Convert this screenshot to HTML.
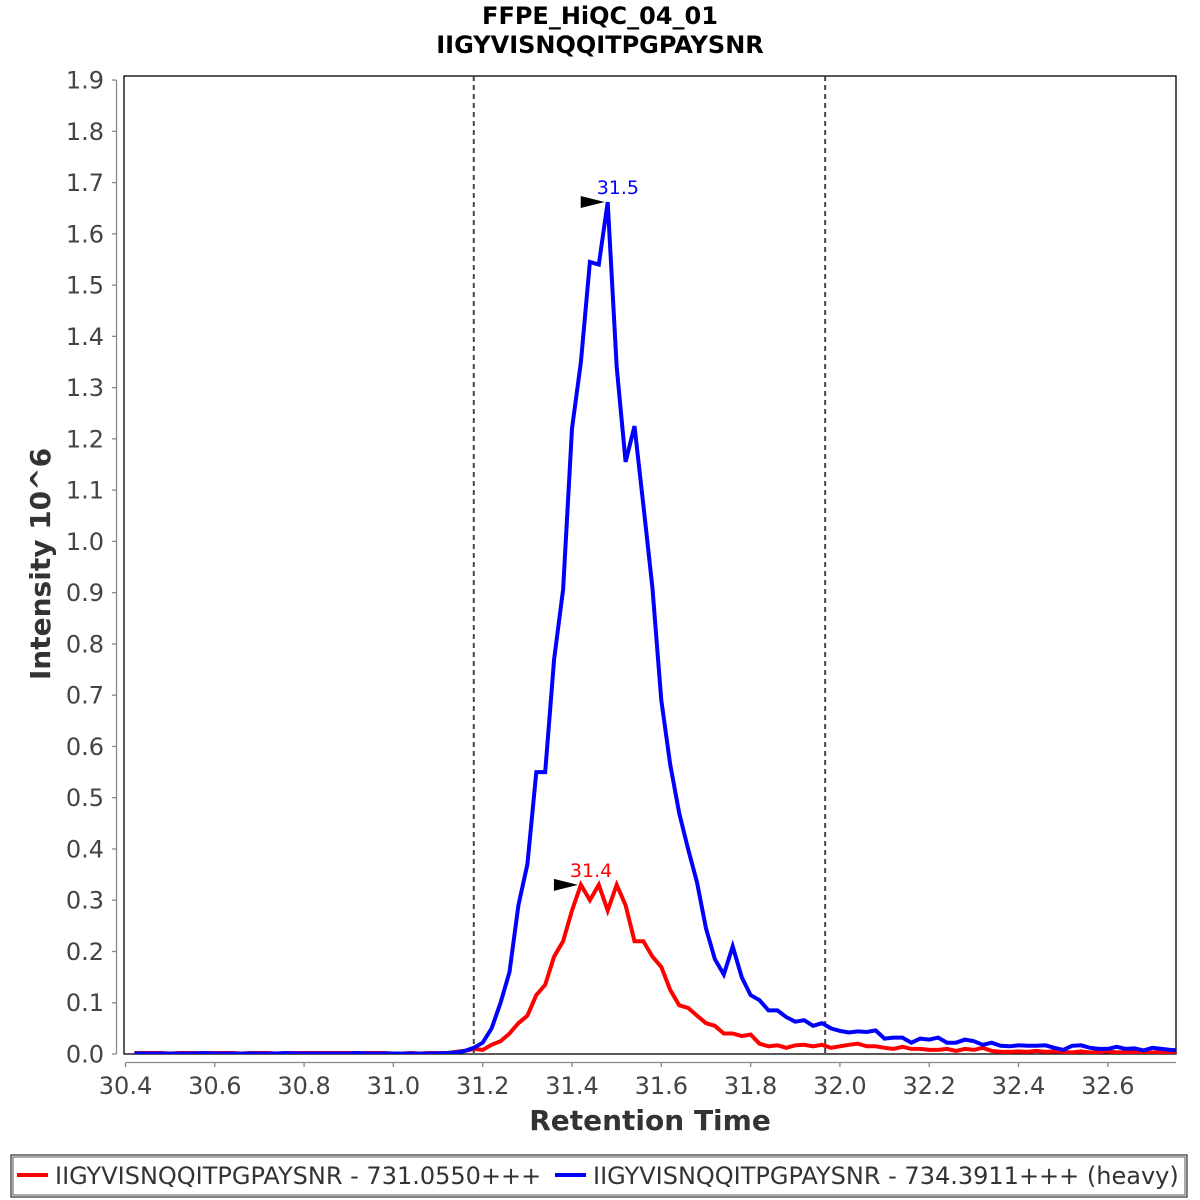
<!DOCTYPE html>
<html><head><meta charset="utf-8"><style>
html,body{margin:0;padding:0;background:#fff;}
svg{display:block;font-family:"DejaVu Sans","Liberation Sans",sans-serif;}
</style></head><body>
<svg id="chart" width="1200" height="1200" viewBox="0 0 1200 1200">
<rect x="0" y="0" width="1200" height="1200" fill="#fff"/>
<text x="600" y="24" text-anchor="middle" font-size="24" font-weight="bold" fill="#000">FFPE_HiQC_04_01</text>
<text x="600" y="53" text-anchor="middle" font-size="24" font-weight="bold" fill="#000">IIGYVISNQQITPGPAYSNR</text>
<rect x="124" y="76" width="1052" height="978" fill="#fff" stroke="#000" stroke-width="1.3"/>
<g id="yaxis"></g>
<g id="xaxis"></g>
<text transform="translate(50,564) rotate(-90)" text-anchor="middle" font-size="28" font-weight="bold" fill="#333">Intensity 10^6</text>
<text x="650" y="1130" text-anchor="middle" font-size="28" font-weight="bold" fill="#333">Retention Time</text>
<defs><clipPath id="clip"><rect x="124" y="76" width="1052" height="978"/></clipPath></defs>
<g id="marks" clip-path="url(#clip)"></g>
<g id="annot"></g>
<rect x="11" y="1155" width="1176" height="42" fill="none" stroke="#000" stroke-width="1"/>
<rect x="13" y="1157" width="1172" height="38" fill="none" stroke="#555" stroke-width="1"/>
<line x1="17" y1="1175" x2="48" y2="1175" stroke="#f00" stroke-width="4"/>
<text x="55" y="1184" font-size="24" fill="#333">IIGYVISNQQITPGPAYSNR - 731.0550+++</text>
<line x1="555" y1="1175" x2="586" y2="1175" stroke="#00f" stroke-width="4"/>
<text x="593" y="1184" font-size="24" fill="#333">IIGYVISNQQITPGPAYSNR - 734.3911+++ (heavy)</text>
</svg>
<script>
const times = [30.42,30.44,30.46,30.48,30.50,30.52,30.54,30.56,30.58,30.60,30.62,30.64,30.66,30.68,30.70,30.72,30.74,30.76,30.78,30.80,30.82,30.84,30.86,30.88,30.90,30.92,30.94,30.96,30.98,31.00,31.02,31.04,31.06,31.08,31.10,31.12,31.14,31.16,31.18,31.20,31.22,31.24,31.26,31.28,31.30,31.32,31.34,31.36,31.38,31.40,31.42,31.44,31.46,31.48,31.50,31.52,31.54,31.56,31.58,31.60,31.62,31.64,31.66,31.68,31.70,31.72,31.74,31.76,31.78,31.80,31.82,31.84,31.86,31.88,31.90,31.92,31.94,31.96,31.98,32.00,32.02,32.04,32.06,32.08,32.10,32.12,32.14,32.16,32.18,32.20,32.22,32.24,32.26,32.28,32.30,32.32,32.34,32.36,32.38,32.40,32.42,32.44,32.46,32.48,32.50,32.52,32.54,32.56,32.58,32.60,32.62,32.64,32.66,32.68,32.70,32.72,32.74,32.76,32.78];
const heavy = [0.001,0.001,0.001,0.001,0.001,0.001,0.001,0.001,0.002,0.001,0.001,0.001,0.001,0.001,0.001,0.001,0.001,0.002,0.001,0.001,0.001,0.001,0.001,0.001,0.001,0.002,0.001,0.001,0.001,0.001,0.001,0.001,0.001,0.001,0.001,0.002,
0.003,0.006,0.012,0.022,0.05,0.10,0.16,0.29,0.37,0.55,0.55,
0.77,0.906,1.22,1.35,1.545,1.54,1.662,1.34,1.155,1.225,1.07,0.91,0.69,0.565,0.47,0.40,0.335,0.245,0.185,0.155,0.21,0.15,0.115,0.105,0.085,0.085,0.072,0.063,0.066,0.055,0.06,0.05,0.045,0.042,0.044,0.043,0.046,0.03,0.032,0.032,0.022,0.03,0.028,0.032,0.022,0.022,0.028,0.025,0.018,0.022,0.016,0.015,0.017,0.016,0.016,0.017,0.012,0.008,0.016,0.017,0.012,0.01,0.01,0.014,0.01,0.011,0.007,0.012,0.01,0.008,0.007];
const light = [0.002,0.002,0.002,0.002,0.001,0.002,0.002,0.002,0.002,0.002,0.002,0.002,0.001,0.002,0.002,0.002,0.001,0.002,0.002,0.002,0.002,0.002,0.002,0.002,0.002,0.002,0.002,0.002,0.002,0.001,0.001,0.002,0.001,0.002,0.002,0.002,
0.004,0.006,0.01,0.008,0.018,0.025,0.04,0.06,0.075,0.115,0.135,0.19,0.22,0.28,0.33,
0.30,0.33,0.28,0.33,0.29,0.22,0.22,0.19,0.17,0.125,0.095,0.09,0.075,0.06,0.055,0.04,0.04,0.035,0.038,0.02,0.015,0.017,0.012,0.017,0.018,0.015,0.018,0.012,0.015,0.018,0.02,0.015,0.015,0.012,0.01,0.014,0.01,0.01,0.008,0.008,0.01,0.006,0.01,0.008,0.012,0.006,0.004,0.004,0.005,0.004,0.006,0.004,0.005,0.004,0.003,0.005,0.003,0.004,0.005,0.003,0.004,0.003,0.004,0.003,0.004,0.003,0.002];
const xTicks = [30.4,30.6,30.8,31.0,31.2,31.4,31.6,31.8,32.0,32.2,32.4,32.6];
const yTicks = [0.0,0.1,0.2,0.3,0.4,0.5,0.6,0.7,0.8,0.9,1.0,1.1,1.2,1.3,1.4,1.5,1.6,1.7,1.8,1.9];
const boundaries = [31.18,31.967];
const peakTimes = [31.5,31.4];

const NS='http://www.w3.org/2000/svg';
const X = t => 125.5 + (t-30.4)*446.5;
const Y = v => 1054 - v*512.6;
function mk(tag, attrs, parent){const e=document.createElementNS(NS,tag);for(const k in attrs)e.setAttribute(k,attrs[k]);parent.appendChild(e);return e;}
const ya=document.getElementById('yaxis'), xa=document.getElementById('xaxis');
const marks=document.getElementById('marks'), an=document.getElementById('annot');
mk('line',{x1:116.5,y1:Y(1.9),x2:116.5,y2:Y(0),stroke:'#888','stroke-width':1.3},ya);
yTicks.forEach(v=>{
  const l=mk('line',{x1:112,y1:Y(v),x2:116.5,y2:Y(v),stroke:'#888','stroke-width':1.3},ya);
  
  
  const t=mk('text',{x:104,y:Y(v)+8.5,'text-anchor':'end','font-size':24,fill:'#444'},ya);
  
  
  t.textContent=v.toFixed(1);
});
mk('line',{x1:X(30.4),y1:1062.5,x2:1176,y2:1062.5,stroke:'#888','stroke-width':1.3},xa);
xTicks.forEach(v=>{
  const l=mk('line',{x1:X(v),y1:1062.5,x2:X(v),y2:1067,stroke:'#888','stroke-width':1.3},xa);
  
  
  const t=mk('text',{x:X(v),y:1094,'text-anchor':'middle','font-size':24,fill:'#444'},xa);
  
  
  t.textContent=v.toFixed(1);
});
boundaries.forEach(b=>{
  const l=mk('line',{x1:X(b),y1:76,x2:X(b),y2:1054,stroke:'#444','stroke-width':2,'stroke-dasharray':'5,4'},marks);
  
  
});
function series(vals,color,name){
  const pts=vals.map((v,i)=>X(times[i]).toFixed(1)+','+Y(v).toFixed(1)).join(' ');
  const p=mk('polyline',{points:pts,fill:'none',stroke:color,'stroke-width':4,'stroke-linejoin':'miter'},marks);
  
  
}
series(light,'#f00','light-series-line');
series(heavy,'#00f','heavy-series-line');
function peakLabel(vals,color,label,name){
  let mi=0; vals.forEach((v,i)=>{if(v>vals[mi])mi=i;});
  const px=X(times[mi]), py=Y(vals[mi]);
  const a=mk('polygon',{points:`${px-27},${py-6} ${px-27},${py+6} ${px-3},${py}`,fill:'#000'},an);
  
  
  const t=mk('text',{x:px-11,y:py-8,'font-size':19,fill:color},an);
  
  
  t.textContent=label;
}
peakLabel(heavy,'#00f',peakTimes[0].toFixed(1),'heavy-peak');
peakLabel(light.slice(0,52),'#f00',peakTimes[1].toFixed(1),'light-peak');
</script>
</body></html>
